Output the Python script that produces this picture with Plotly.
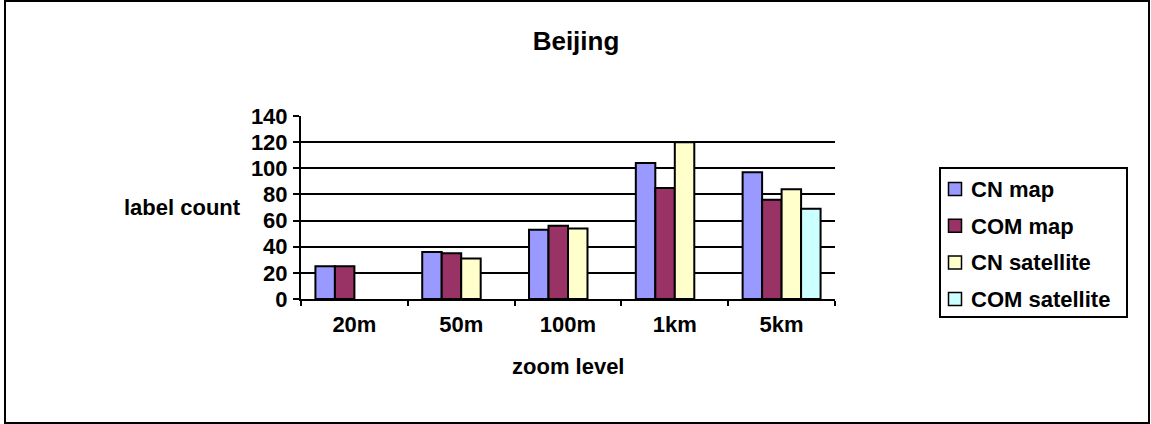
import plotly.graph_objects as go

categories = ["20m", "50m", "100m", "1km", "5km"]
cn_map = [25, 36, 53, 104, 97]
com_map = [25, 35, 56, 85, 76]
cn_satellite = [None, 31, 54, 120, 84]
com_satellite = [None, None, None, None, 69]
series_names = ["CN map", "COM map", "CN satellite", "COM satellite"]
series_values = [cn_map, com_map, cn_satellite, com_satellite]
colors = ["#9999FF", "#993366", "#FFFFCC", "#CCFFFF"]
y_ticks = [0, 20, 40, 60, 80, 100, 120, 140]

W, H = 1151, 424
L, R, T, B = 301, 835, 116, 299  # plot area in px


def px_x(p):
    return (p - L) / (R - L)


def px_y(p):
    return (B - p) / (B - T)


FONT = "Liberation Sans, Arial, sans-serif"

fig = go.Figure()
for name, vals, col in zip(series_names, series_values, colors):
    fig.add_trace(go.Bar(
        x=categories, y=vals, name=name,
        marker=dict(color=col, line=dict(color="black", width=2)),
        showlegend=False,
    ))

annotations = [
    dict(text="label count", x=px_x(182), y=px_y(207), xref="paper",
         yref="paper", showarrow=False, xanchor="center", yanchor="middle",
         font=dict(size=22, family=FONT, weight="bold")),
    dict(text="zoom level", x=px_x(567.5), y=px_y(366), xref="paper",
         yref="paper", showarrow=False, xanchor="center", yanchor="middle",
         font=dict(size=22, family=FONT, weight="bold")),
]
shapes = [
    dict(type="rect", xref="paper", yref="paper",
         x0=px_x(5), x1=px_x(1149), y0=px_y(423), y1=px_y(1),
         line=dict(color="black", width=2), layer="below"),
    # legend box
    dict(type="rect", xref="paper", yref="paper",
         x0=px_x(940), x1=px_x(1127), y0=px_y(317), y1=px_y(168),
         line=dict(color="black", width=2), fillcolor="white", layer="above"),
]

# legend entries
row0, row_step = 189, 36.7
for i, (name, col) in enumerate(zip(series_names, colors)):
    yc = row0 + i * row_step
    shapes.append(dict(type="rect", xref="paper", yref="paper",
                       x0=px_x(948.5), x1=px_x(961.5),
                       y0=px_y(yc + 6.5), y1=px_y(yc - 6.5),
                       line=dict(color="black", width=1.5), fillcolor=col,
                       layer="above"))
    annotations.append(dict(text=name, x=px_x(969), y=px_y(yc + 0.5),
                            xref="paper", yref="paper", showarrow=False,
                            xanchor="left", yanchor="middle",
                            font=dict(size=22, family=FONT, weight="bold")))

fig.update_layout(
    width=W, height=H,
    margin=dict(l=L, r=W - R, t=T, b=H - B, pad=0),
    paper_bgcolor="white", plot_bgcolor="white",
    font=dict(family=FONT, size=22, color="black", weight="bold"),
    barmode="group", bargap=0.27, bargroupgap=0,
    showlegend=False,
    title=dict(text="Beijing", font=dict(size=26, family=FONT, weight="bold"),
               x=576 / W, xref="container", xanchor="center",
               y=1 - 41 / H, yref="container", yanchor="middle"),
    xaxis=dict(showline=True, linecolor="black", linewidth=2,
               ticks="outside", ticklen=5, tickwidth=1.5, tickcolor="black",
               tickson="boundaries", showgrid=False, zeroline=False,
               ticklabelstandoff=5),
    yaxis=dict(range=[0, 140], tickvals=y_ticks, showline=True,
               linecolor="black", linewidth=2, ticks="outside", ticklen=6,
               tickwidth=1.5, tickcolor="black", showgrid=True,
               gridcolor="black", gridwidth=2, zeroline=False,
               ticklabelstandoff=1),
    annotations=annotations,
    shapes=shapes,
)

fig.write_html("out.html")
